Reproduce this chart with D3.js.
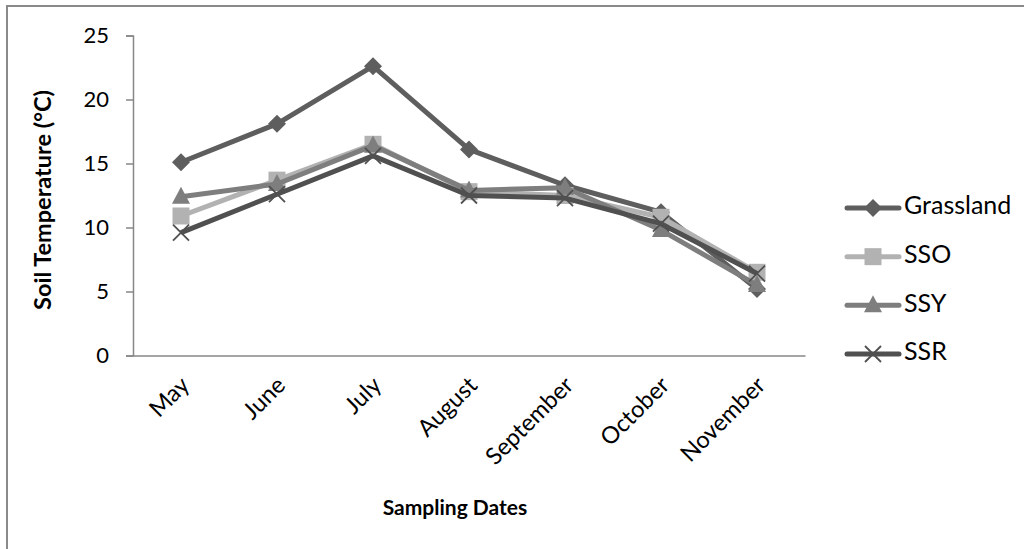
<!DOCTYPE html>
<html><head><meta charset="utf-8">
<script src="https://cdn.jsdelivr.net/npm/d3@7"></script>
<style>body{margin:0;background:#fff;}svg{display:block;font-family:Lato,"Open Sans",sans-serif;}</style>
</head><body>
<svg id="c" width="1024" height="549"></svg>
<script>
const categories = ["May","June","July","August","September","October","November"];
const grassland = [15.1, 18.1, 22.6, 16.1, 13.3, 11.2, 5.2];
const sso = [10.9, 13.7, 16.5, 12.8, 12.5, 10.8, 6.5];
const ssy = [12.4, 13.4, 16.4, 12.9, 13.1, 9.8, 5.5];
const ssr = [9.6, 12.6, 15.6, 12.5, 12.3, 10.3, 6.4];
const yTicks = [0, 5, 10, 15, 20, 25];
const seriesNames = ["Grassland","SSO","SSY","SSR"];

(function(){
const series = [
  {name: seriesNames[0], values: grassland, color: "#5e5e5e", shape: "diamond"},
  {name: seriesNames[1], values: sso, color: "#b2b2b2", shape: "square"},
  {name: seriesNames[2], values: ssy, color: "#7e7e7e", shape: "triangle"},
  {name: seriesNames[3], values: ssr, color: "#505050", shape: "x"}
];

const svg = d3.select("#c");
const pLeft = 133, pRight = 805, pTop = 35.5, pBottom = 355.5;

svg.append("path").attr("d", `M7,549 V6 H1024`).attr("fill","none").attr("stroke","#8a8a8a").attr("stroke-width",2);

const x = d3.scalePoint().domain(categories).range([pLeft, pRight]).padding(0.5);
const y = d3.scaleLinear().domain([0, 25]).range([pBottom, pTop]);

const yAxis = svg.append("g").attr("transform",`translate(${pLeft},0)`)
  .call(d3.axisLeft(y).tickValues(yTicks).tickSize(7).tickPadding(17));
yAxis.select(".domain").attr("stroke","#878787").attr("stroke-width",1.5);
yAxis.selectAll(".tick line").attr("stroke","#878787").attr("stroke-width",1.5);
yAxis.selectAll(".tick text").attr("font-size",22).attr("fill","#000").attr("font-family","Lato, 'Open Sans', sans-serif");

const xAxis = svg.append("g").attr("transform",`translate(0,${pBottom})`)
  .call(d3.axisBottom(x).tickSize(0).tickSizeOuter(0));
xAxis.select(".domain").attr("stroke","#878787").attr("stroke-width",1.5);
xAxis.selectAll(".tick text")
  .attr("font-size",23.5).attr("fill","#000").attr("font-family","Lato, 'Open Sans', sans-serif")
  .attr("text-anchor","end").attr("dy",null).attr("y",null)
  .attr("transform","translate(5,27) rotate(-45)")
  .attr("dominant-baseline","middle");

svg.append("text").attr("x",455).attr("y",515).attr("text-anchor","middle")
  .attr("font-size",21).attr("font-weight","bold").text("Sampling Dates");
svg.append("text").attr("transform","translate(45,200) rotate(-90)").attr("text-anchor","middle")
  .attr("dominant-baseline","middle")
  .attr("font-size",23.5).attr("font-weight","bold").text("Soil Temperature (°C)");

function marker(g, shape, color){
  if(shape==="diamond"){
    g.append("path").attr("d","M0,-9 L9,0 L0,9 L-9,0 Z").attr("fill",color);
  } else if(shape==="square"){
    g.append("rect").attr("x",-8.5).attr("y",-8.5).attr("width",17).attr("height",17).attr("fill",color);
  } else if(shape==="triangle"){
    g.append("path").attr("d","M0,-10 L9,7 L-9,7 Z").attr("fill",color);
  } else {
    g.append("path").attr("d","M-8,-8 L8,8 M-8,8 L8,-8").attr("stroke",color).attr("stroke-width",1.8);
  }
}

const line = d3.line().x((d,i)=>x(categories[i])).y(d=>y(d));
series.forEach(s=>{
  svg.append("path").datum(s.values).attr("d",line).attr("fill","none")
    .attr("stroke",s.color).attr("stroke-width",5).attr("stroke-linejoin","round");
  s.values.forEach((v,i)=>{
    const g = svg.append("g").attr("transform",`translate(${x(categories[i])},${y(v)})`);
    marker(g, s.shape, s.color);
  });
});

const legY = d3.scalePoint().domain(seriesNames).range([208, 354]);
series.forEach(s=>{
  const ly = legY(s.name);
  svg.append("line").attr("x1",847).attr("x2",899).attr("y1",ly).attr("y2",ly)
    .attr("stroke",s.color).attr("stroke-width",5).attr("stroke-linecap","round");
  const g = svg.append("g").attr("transform",`translate(873,${ly})`);
  marker(g, s.shape, s.color);
  svg.append("text").attr("x",904).attr("y",ly).attr("dominant-baseline","middle")
    .attr("font-size",25).text(s.name);
});
})();
</script>
</body></html>
